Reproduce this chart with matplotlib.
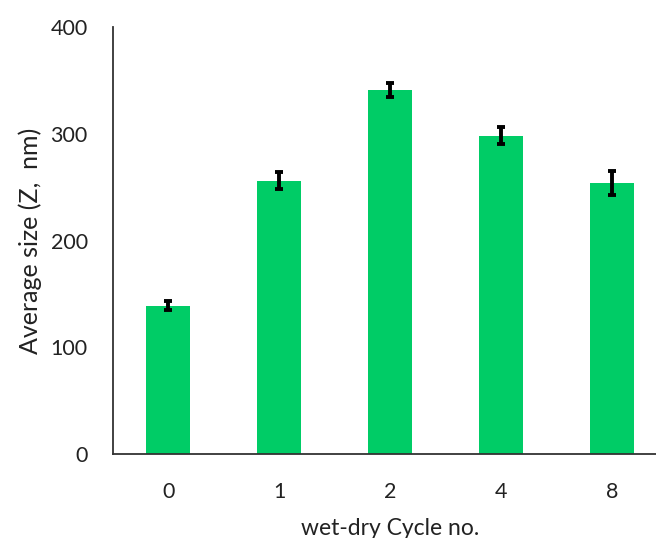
import matplotlib
matplotlib.use("Agg")
import matplotlib.pyplot as plt
import numpy as np

cycles = ["0", "1", "2", "4", "8"]
avg_size = [139, 256, 341, 298, 254]
size_err = [4, 8, 7, 8, 11]
y_ticks = [0, 100, 200, 300, 400]

plt.rcParams["font.family"] = ["Lato", "DejaVu Sans"]

fig = plt.figure(figsize=(6.56, 5.38), dpi=100)
ax = fig.add_axes([0.1718, 0.1561, 0.846, 0.7937])

x = np.arange(len(cycles))
ax.bar(x, avg_size, width=0.40, color="#00cc66", zorder=2)
ax.errorbar(x, avg_size, yerr=size_err, fmt="none", ecolor="black",
            elinewidth=2.8, capsize=3, capthick=2.8, zorder=3)

ax.set_xlim(-0.5, len(cycles) - 0.5)
ax.set_ylim(0, 400)
ax.set_yticks(y_ticks)
ax.set_xticks(x)
ax.set_xticklabels(cycles)

ax.tick_params(axis="both", length=0, labelsize=15.5, colors="#222222")
ax.tick_params(axis="y", pad=18)
ax.tick_params(axis="x", pad=20)

for side in ("top", "right"):
    ax.spines[side].set_visible(False)
for side in ("left", "bottom"):
    ax.spines[side].set_color("#333333")
    ax.spines[side].set_linewidth(1.3)

ax.set_ylabel("Average size (Z,  nm)", fontsize=18, color="#222222", labelpad=6)
ax.set_xlabel("wet-dry Cycle no.", fontsize=16.5, color="#222222")
ax.xaxis.set_label_coords(0.5, -0.15, transform=ax.transAxes)

fig.savefig("out.png", dpi=100)
